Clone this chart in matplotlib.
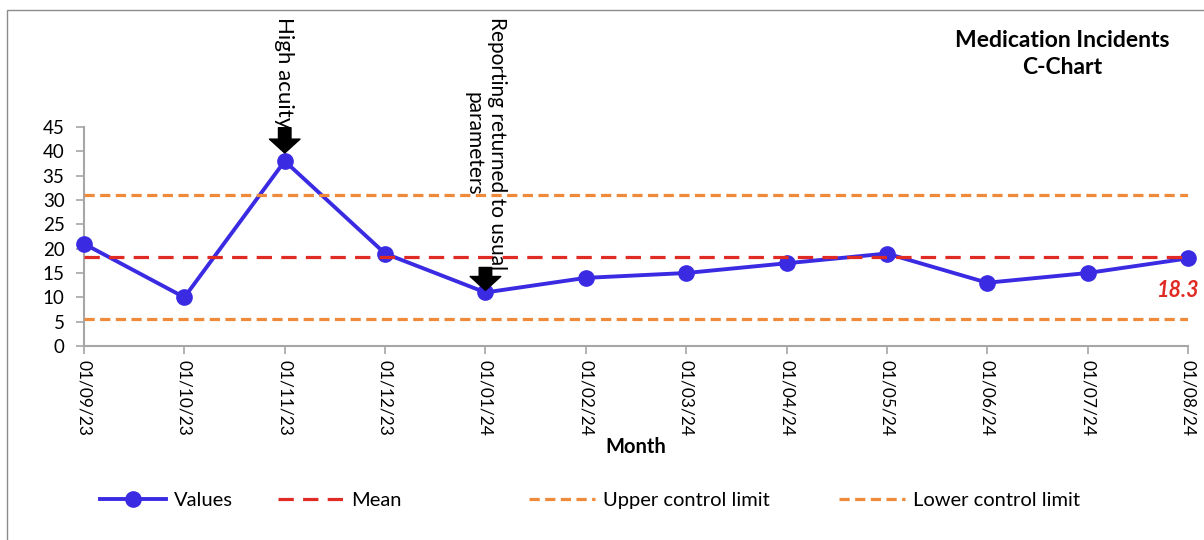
import matplotlib
matplotlib.use("Agg")
import matplotlib.pyplot as plt
from matplotlib.patches import Rectangle

# Monthly medication incident counts
months = ["01/09/23", "01/10/23", "01/11/23", "01/12/23", "01/01/24", "01/02/24",
          "01/03/24", "01/04/24", "01/05/24", "01/06/24", "01/07/24", "01/08/24"]
values = [21, 10, 38, 19, 11, 14, 15, 17, 19, 13, 15, 18]
mean_value = 18.3
ucl_value = 31.13
lcl_value = 5.47
y_ticks = [0, 5, 10, 15, 20, 25, 30, 35, 40, 45]

# Event notes: (month index, text)
notes = [(2, "High acuity"), (4, "Reporting returned to usual\nparameters")]

BLUE = "#3A2BE3"
RED = "#E02B25"
ORANGE = "#EF8A3B"
GREY = "#A6A6A6"

plt.rcParams["font.family"] = ["Lato", "DejaVu Sans"]

W, H = 1204, 540
fig = plt.figure(figsize=(W / 100, H / 100), dpi=100)
ax = fig.add_axes([84 / W, 1 - 346 / H, (1188 - 84) / W, (346 - 127) / H])

x = list(range(len(months)))
n = len(months)

ax.plot(x, values, color=BLUE, lw=2.8, marker="o", markersize=11,
        clip_on=False, zorder=3, label="Values")
ax.plot([0, n - 1], [mean_value] * 2, color=RED, lw=2.3,
        dashes=(4.8, 2.9), dash_capstyle="butt", zorder=4, label="Mean")
ax.plot([0, n - 1], [ucl_value] * 2, color=ORANGE, lw=2.3,
        dashes=(3.2, 1.7), dash_capstyle="butt", zorder=4,
        label="Upper control limit")
ax.plot([0, n - 1], [lcl_value] * 2, color=ORANGE, lw=2.3,
        dashes=(3.2, 1.7), dash_capstyle="butt", zorder=4,
        label="Lower control limit")

ax.set_xlim(0, n - 1)
ax.set_ylim(0, 45)
ax.set_yticks(y_ticks)
ax.set_xticks(x)
ax.set_xticklabels(months, rotation=270, fontsize=12.5)
ax.tick_params(axis="y", labelsize=13.5, length=6, width=1.2, color=GREY, pad=8)
ax.tick_params(axis="x", length=6, width=1.2, color=GREY, pad=4)
for side in ("top", "right"):
    ax.spines[side].set_visible(False)
for side in ("left", "bottom"):
    ax.spines[side].set_color(GREY)
    ax.spines[side].set_linewidth(1.5)

ax.set_xlabel("Month", fontsize=14.5, fontweight="bold", labelpad=1)

# Event annotations: block arrow plus vertical note
arrow_style = "simple,head_length=0.5,head_width=1.1,tail_width=0.45"
for idx, text in notes:
    tip_gap = 5.8 if idx == 2 else 1.5
    length = 24 if idx == 2 else 18
    ax.annotate("", xy=(idx, values[idx]), xytext=(0, length),
                textcoords="offset points",
                arrowprops=dict(arrowstyle=arrow_style, color="black",
                                mutation_scale=20, shrinkA=0, shrinkB=tip_gap),
                annotation_clip=False, zorder=6)

fig.text(284 / W, 1 - 17 / H, notes[0][1], rotation=270, ha="center",
         va="top", fontsize=16)
fig.text(485 / W, 1 - 17 / H, notes[1][1], rotation=270, ha="center",
         va="top", fontsize=15, multialignment="center", linespacing=1.2)

# Mean value label
ax.annotate(f"{mean_value:.1f}", xy=(n - 1, mean_value), xytext=(-22, -24),
            textcoords="offset points", ha="left", va="center",
            color=RED, fontsize=15.5, fontweight="bold", fontstyle="italic",
            annotation_clip=False)

# Title
fig.text(1062 / W, 1 - 54 / H, "Medication Incidents\nC-Chart", ha="center",
         va="center", fontsize=16.5, fontweight="bold", linespacing=1.35)

# Legend entries laid out in one row
handles, labels = ax.get_legend_handles_labels()
starts = [100, 278, 529, 839]
for h, l, sx in zip(handles, labels, starts):
    fig.legend(handles=[h], labels=[l], loc="center left",
               bbox_to_anchor=(sx / W, 1 - 500 / H), frameon=False,
               fontsize=14.5, handlelength=3.3, handletextpad=0.35,
               borderpad=0, borderaxespad=0, numpoints=1)

# Chart frame
fig.add_artist(Rectangle((7 / W, -0.1), 1.2, (H - 10) / H + 0.1,
                         transform=fig.transFigure, fill=False,
                         edgecolor="#8C8C8C", lw=1.0))

fig.savefig("out.png", dpi=100)
